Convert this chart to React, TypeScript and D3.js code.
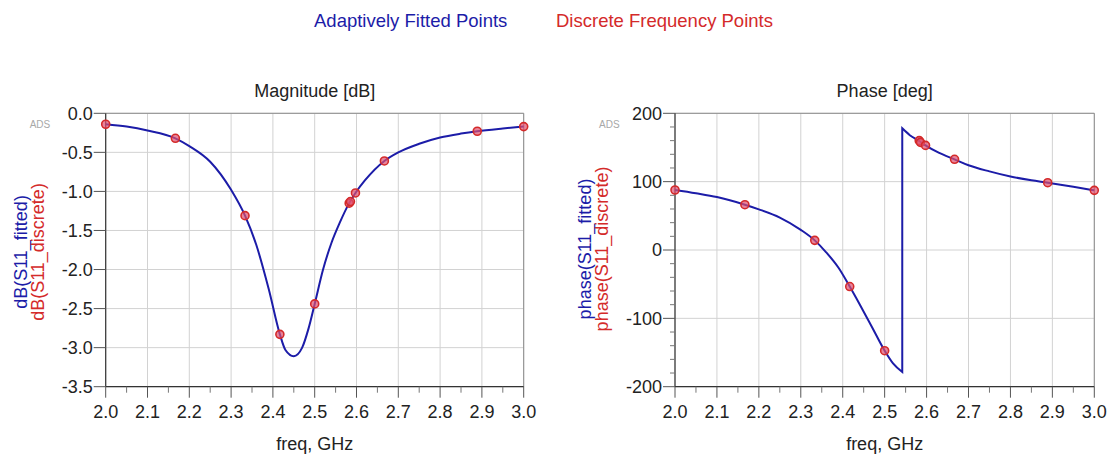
import React from "react";
import * as d3 from "d3";

// ---------- data ----------
const freqDiscrete = [2.0, 2.1667, 2.3333, 2.4167, 2.5, 2.5825, 2.5855, 2.5975, 2.6667, 2.8889, 3.0];
const magDiscrete = [-0.14, -0.32, -1.31, -2.83, -2.44, -1.15, -1.13, -1.02, -0.61, -0.23, -0.17];
const phaseDiscrete = [87.8, 66.3, 14.1, -53.5, -147.3, 160, 157.5, 153, 132.7, 98.5, 87.3];

const freqMagFit = [2.0, 2.05, 2.1, 2.1667, 2.2, 2.25, 2.3, 2.3333, 2.36, 2.39, 2.4167, 2.43, 2.45, 2.47, 2.485, 2.5, 2.52, 2.54, 2.56, 2.5825, 2.5975, 2.62, 2.6667, 2.7, 2.75, 2.8, 2.85, 2.8889, 2.95, 3.0];
const magFit = [-0.14, -0.17, -0.22, -0.32, -0.42, -0.62, -0.98, -1.31, -1.68, -2.25, -2.83, -3.03, -3.11, -3.0, -2.76, -2.44, -2.0, -1.66, -1.4, -1.15, -1.02, -0.86, -0.61, -0.5, -0.39, -0.31, -0.26, -0.23, -0.195, -0.17];

// phase fitted: before the wrap and after the wrap
const freqPhaseFitA = [2.0, 2.05, 2.1, 2.1667, 2.2, 2.25, 2.3, 2.3333, 2.36, 2.39, 2.4167, 2.44, 2.47, 2.5, 2.52, 2.542];
const phaseFitA = [87.8, 83, 77.5, 66.3, 59.5, 47.5, 29.5, 14.1, -3, -26, -53.5, -79, -113, -147.3, -166, -178.5];
const freqPhaseFitB = [2.542, 2.56, 2.5825, 2.5975, 2.63, 2.6667, 2.7, 2.75, 2.8, 2.85, 2.8889, 2.95, 3.0];
const phaseFitB = [178, 168, 159.5, 153, 142, 132.7, 124, 115, 107.5, 102, 98.5, 92.5, 87.3];

const xTicks = [2.0, 2.1, 2.2, 2.3, 2.4, 2.5, 2.6, 2.7, 2.8, 2.9, 3.0];
const xMinor = [2.05, 2.15, 2.25, 2.35, 2.45, 2.55, 2.65, 2.75, 2.85, 2.95];
const magTicks = [0.0, -0.5, -1.0, -1.5, -2.0, -2.5, -3.0, -3.5];
const phaseTicks = [200, 100, 0, -100, -200];
const phaseMinor = [180, 160, 140, 120, 80, 60, 40, 20, -20, -40, -60, -80, -120, -140, -160, -180];

// ---------- style ----------
const FONT = "'Liberation Sans', Arial, sans-serif";
const BLUE = "#1c1ca8";
const RED = "#d42a2a";
const GRID = "#d2d2d2";
const TOP = 113.3;
const BOTTOM = 386.7;

type PanelProps = {
  x0: number;
  x1: number;
  yDomain: [number, number];
  yTicks: number[];
  yMinor: number[];
  yFmt: (v: number) => string;
  title: string;
  labelFit: string;
  labelDisc: string;
  labelX: number;
  labelY: number;
  fitPath: (xs: d3.ScaleLinear<number, number>, ys: d3.ScaleLinear<number, number>) => string;
  disc: number[];
};

function Panel(p: PanelProps) {
  const xs = d3.scaleLinear().domain([2.0, 3.0]).range([p.x0, p.x1]);
  const ys = d3.scaleLinear().domain(p.yDomain).range([BOTTOM, TOP]);
  return (
    <g>
      {/* grid */}
      {xTicks.map((t) => (
        <line key={"gx" + t} x1={xs(t)} x2={xs(t)} y1={TOP} y2={BOTTOM} stroke={GRID} strokeWidth={1} />
      ))}
      {p.yTicks.map((t) => (
        <line key={"gy" + t} x1={p.x0} x2={p.x1} y1={ys(t)} y2={ys(t)} stroke={GRID} strokeWidth={1} />
      ))}
      {/* frame */}
      <line x1={p.x0} x2={p.x1} y1={TOP} y2={TOP} stroke="#8c8c8c" strokeWidth={1} />
      <line x1={p.x1} x2={p.x1} y1={TOP} y2={BOTTOM} stroke="#8c8c8c" strokeWidth={1} />
      {/* axes */}
      <line x1={p.x0} x2={p.x1} y1={BOTTOM} y2={BOTTOM} stroke="#333" strokeWidth={1.2} />
      <line x1={p.x0} x2={p.x0} y1={TOP} y2={BOTTOM} stroke="#333" strokeWidth={1.2} />
      {xTicks.map((t) => (
        <line key={"tx" + t} x1={xs(t)} x2={xs(t)} y1={BOTTOM} y2={BOTTOM + 11} stroke="#555" strokeWidth={1} />
      ))}
      {xMinor.map((t) => (
        <line key={"mx" + t} x1={xs(t)} x2={xs(t)} y1={BOTTOM} y2={BOTTOM + 6} stroke="#777" strokeWidth={1} />
      ))}
      {p.yTicks.map((t) => (
        <line key={"ty" + t} x1={p.x0 - 12} x2={p.x0} y1={ys(t)} y2={ys(t)} stroke="#555" strokeWidth={1} />
      ))}
      {p.yMinor.map((t) => (
        <line key={"my" + t} x1={p.x0 - 5} x2={p.x0} y1={ys(t)} y2={ys(t)} stroke="#777" strokeWidth={1} />
      ))}
      {/* tick labels */}
      {xTicks.map((t) => (
        <text key={"lx" + t} x={xs(t)} y={418} textAnchor="middle" fontSize={18} fill="#222" fontFamily={FONT}>
          {t.toFixed(1)}
        </text>
      ))}
      {p.yTicks.map((t) => (
        <text key={"ly" + t} x={p.x0 - 13} y={ys(t) + 6.4} textAnchor="end" fontSize={18} fill="#222" fontFamily={FONT}>
          {p.yFmt(t)}
        </text>
      ))}
      <text x={(p.x0 + p.x1) / 2} y={450} textAnchor="middle" fontSize={18} fill="#222" fontFamily={FONT}>
        freq, GHz
      </text>
      <text x={(p.x0 + p.x1) / 2} y={97} textAnchor="middle" fontSize={18} fill="#222" fontFamily={FONT}>
        {p.title}
      </text>
      <text x={p.x0 - 76} y={128} fontSize={10} fill="#a8a8a8" fontFamily={FONT}>
        ADS
      </text>
      {/* y labels */}
      <text transform={`translate(${p.labelX},${p.labelY}) rotate(-90)`} textAnchor="middle" fontSize={18} fill={BLUE} fontFamily={FONT}>
        {p.labelFit}
      </text>
      <text transform={`translate(${p.labelX + 16.5},${p.labelY}) rotate(-90)`} textAnchor="middle" fontSize={18} fill={RED} fontFamily={FONT}>
        {p.labelDisc}
      </text>
      {/* fitted curve */}
      <path d={p.fitPath(xs, ys)} fill="none" stroke={BLUE} strokeWidth={2} />
      {/* discrete points */}
      {freqDiscrete.map((f, i) => (
        <circle key={"pt" + i} cx={xs(f)} cy={ys(p.disc[i])} r={4} fill="#e0506e" fillOpacity={0.7} stroke={RED} strokeWidth={1.6} />
      ))}
    </g>
  );
}

export default function App() {
  const magPath = (xs: any, ys: any) =>
    d3
      .line<number>()
      .x((d, i) => xs(freqMagFit[i]))
      .y((d) => ys(d))
      .curve(d3.curveMonotoneX)(magFit) || "";
  const phasePath = (xs: any, ys: any) => {
    const a =
      d3
        .line<number>()
        .x((d, i) => xs(freqPhaseFitA[i]))
        .y((d) => ys(d))
        .curve(d3.curveMonotoneX)(phaseFitA) || "";
    const b =
      d3
        .line<number>()
        .x((d, i) => xs(freqPhaseFitB[i]))
        .y((d) => ys(d))
        .curve(d3.curveMonotoneX)(phaseFitB) || "";
    return a + b.replace(/^M/, "L");
  };
  return (
    <svg width={1111} height={454} style={{ position: "absolute", left: 0, top: 0, background: "#fff" }}>
      <rect x={0} y={0} width={1111} height={454} fill="#fff" />
      <text x={314} y={27} fontSize={18.5} fill={BLUE} fontFamily={FONT}>
        Adaptively Fitted Points
      </text>
      <text x={556} y={27} fontSize={18.5} fill={RED} fontFamily={FONT}>
        Discrete Frequency Points
      </text>
      <Panel
        x0={105.7}
        x1={523.7}
        yDomain={[-3.5, 0]}
        yTicks={magTicks}
        yMinor={[]}
        yFmt={(v) => (v === 0 ? "0.0" : v.toFixed(1))}
        title="Magnitude [dB]"
        labelFit="dB(S11_fitted)"
        labelDisc="dB(S11_discrete)"
        labelX={27}
        labelY={252}
        fitPath={magPath}
        disc={magDiscrete}
      />
      <Panel
        x0={675}
        x1={1094.3}
        yDomain={[-200, 200]}
        yTicks={phaseTicks}
        yMinor={phaseMinor}
        yFmt={(v) => String(v)}
        title="Phase [deg]"
        labelFit="phase(S11_fitted)"
        labelDisc="phase(S11_discrete)"
        labelX={591}
        labelY={249}
        fitPath={phasePath}
        disc={phaseDiscrete}
      />
    </svg>
  );
}
